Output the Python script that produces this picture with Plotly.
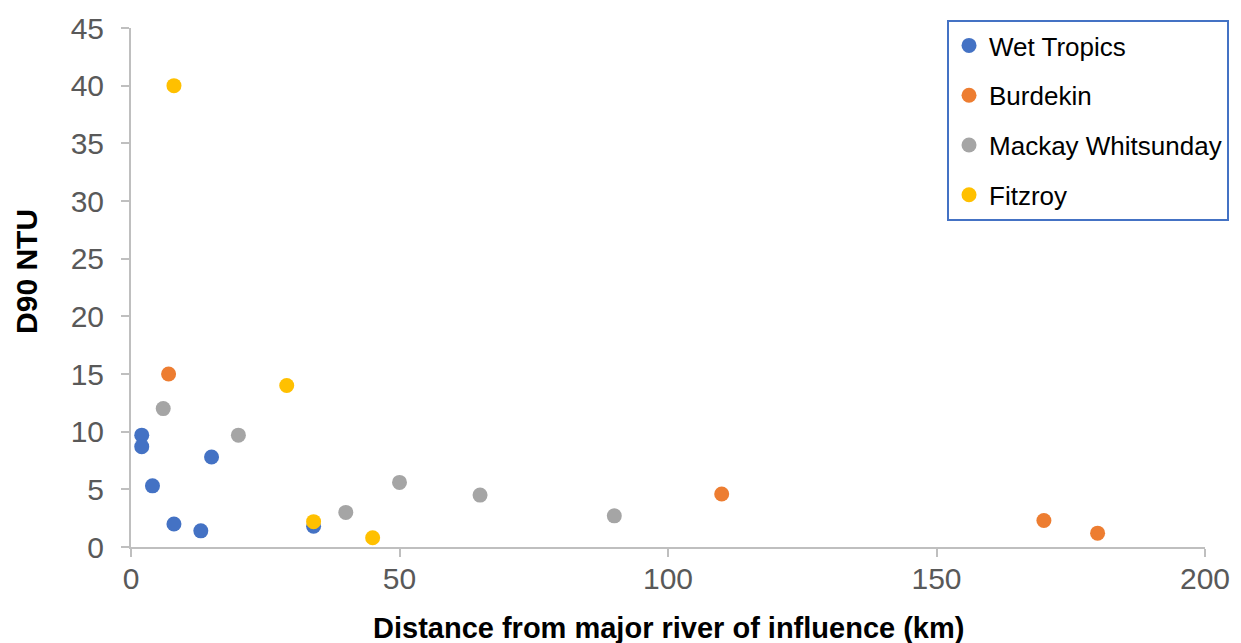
import plotly.graph_objects as go

series_names = ["Wet Tropics", "Burdekin", "Mackay Whitsunday", "Fitzroy"]
wet_x = [2, 2, 4, 8, 13, 15, 34]
wet_y = [9.7, 8.7, 5.3, 2.0, 1.4, 7.8, 1.8]
bur_x = [7, 110, 170, 180]
bur_y = [15, 4.6, 2.3, 1.2]
mac_x = [6, 20, 40, 50, 65, 90]
mac_y = [12, 9.7, 3.0, 5.6, 4.5, 2.7]
fit_x = [8, 29, 34, 45]
fit_y = [40, 14, 2.2, 0.8]
colors = ["#4472C4", "#ED7D31", "#A5A5A5", "#FFC000"]
x_title = "Distance from major river of influence (km)"
y_title = "D90 NTU"

xs = [wet_x, bur_x, mac_x, fit_x]
ys = [wet_y, bur_y, mac_y, fit_y]

fig = go.Figure()
for i, name in enumerate(series_names):
    fig.add_trace(go.Scatter(
        x=xs[i], y=ys[i], mode="markers", name=name,
        legendgroup=name,
        marker=dict(color=colors[i], size=15, line=dict(width=0)),
    ))

font_family = "Arial, Liberation Sans, sans-serif"
fig.update_layout(
    width=1233, height=635,
    paper_bgcolor="white", plot_bgcolor="white",
    margin=dict(l=123, r=36, t=20, b=96, autoexpand=False),
    font=dict(family=font_family, color="#595959", size=30),
    showlegend=True,
    legend=dict(
        x=0.7598, y=1.0154, xanchor="left", yanchor="top",
        bordercolor="#4472C4", borderwidth=2, bgcolor="white",
        font=dict(size=26, color="#000000", family=font_family),
        tracegroupgap=13,
    ),
    xaxis=dict(
        range=[0, 200], tickvals=[0, 50, 100, 150, 200],
        showgrid=False, zeroline=False, showline=True,
        linecolor="#BFBFBF", linewidth=2,
        ticks="outside", ticklen=8, tickcolor="#BFBFBF", tickwidth=2,
        ticklabelstandoff=-4,
        tickfont=dict(size=30, color="#595959"),
    ),
    yaxis=dict(
        range=[0, 45], tickvals=[0, 5, 10, 15, 20, 25, 30, 35, 40, 45],
        showgrid=False, zeroline=False, showline=True,
        linecolor="#BFBFBF", linewidth=2,
        ticks="outside", ticklen=8, tickcolor="#BFBFBF", tickwidth=2,
        ticklabelstandoff=11,
        tickfont=dict(size=30, color="#595959"),
    ),
    annotations=[
        dict(text="<b>" + x_title + "</b>", xref="paper", yref="paper",
             x=0.5, y=-0.156, xanchor="center", yanchor="middle",
             showarrow=False, font=dict(size=29, color="#000000")),
        dict(text="<b>" + y_title + "</b>", xref="paper", yref="paper",
             x=-0.0968, y=0.53, xanchor="center", yanchor="middle",
             textangle=-90, showarrow=False, font=dict(size=30, color="#000000")),
    ],
)

fig.write_html("out.html")
